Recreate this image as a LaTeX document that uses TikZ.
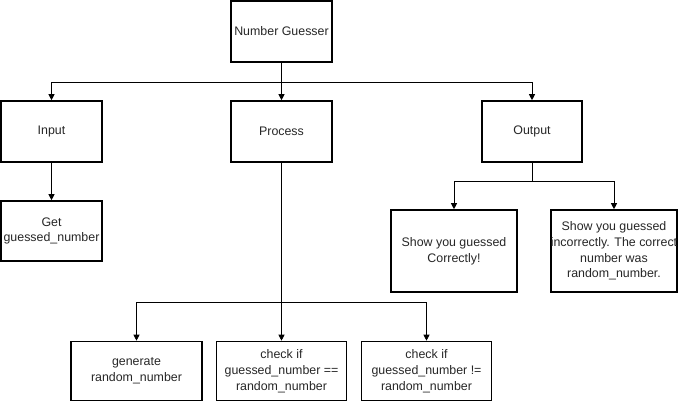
\documentclass[tikz,border=0pt]{standalone}
\usepackage{fontspec}
\setmainfont{Liberation Sans}
\usetikzlibrary{arrows.meta}
\begin{document}
\begin{tikzpicture}[x=1pt,y=-1pt,
  box/.style={draw=black,line width=1.6pt,rectangle,align=center,inner sep=0pt,
    font=\fontsize{12.4}{15.8}\selectfont,text=black!85},
  arr/.style={draw=black,line width=0.9pt,-{Triangle[length=6pt,width=6pt]}},
  ln/.style={draw=black,line width=0.9pt}]
\useasboundingbox (0,0) rectangle (678,402);
\node[box,minimum width=101pt,minimum height=61pt] (NG) at (281.5,31.5) {Number Guesser};
\node[box,minimum width=101pt,minimum height=61pt] (In) at (51.5,131.5) {Input};
\node[box,minimum width=101pt,minimum height=61pt] (Pr) at (281.5,131.5) {Process};
\node[box,minimum width=100pt,minimum height=61pt] (Out) at (532,131.5) {Output};
\node[box,minimum width=101pt,minimum height=60pt] (Get) at (51.5,231) {Get\\guessed\_number};
\node[box,minimum width=126pt,minimum height=82pt] (Cor) at (454,251) {Show you guessed\\Correctly!};
\node[box,minimum width=126pt,minimum height=82pt] (Inc) at (614,251) {Show you guessed\\incorrectly. The correct\\number was\\random\_number.};
\node[box,minimum width=131pt,minimum height=59pt] (Gen) at (136.5,371) {generate\\random\_number};
\node[box,minimum width=130pt,minimum height=59pt] (Eq) at (281.5,371) {check if\\guessed\_number ==\\random\_number};
\node[box,minimum width=130pt,minimum height=59pt] (Ne) at (426.5,371) {check if\\guessed\_number !=\\random\_number};
\coordinate (j1) at (281.5,82);
\coordinate (j2) at (532,181);
\coordinate (j3) at (281.5,302);
\draw[arr] (NG.south) -- (Pr.north);
\draw[arr] (j1) -| (In.north);
\draw[arr] (j1) -| (Out.north);
\draw[arr] (In.south) -- (Get.north);
\draw[ln] (Out.south) -- (j2);
\draw[arr] (j2) -| (Cor.north);
\draw[arr] (j2) -| (Inc.north);
\draw[arr] (Pr.south) -- (Eq.north);
\draw[arr] (j3) -| (Gen.north);
\draw[arr] (j3) -| (Ne.north);
\end{tikzpicture}
\end{document}
